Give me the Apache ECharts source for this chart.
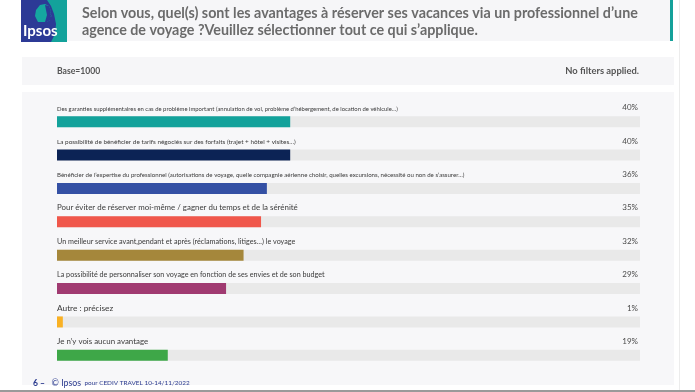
<!DOCTYPE html>
<html><head><meta charset="utf-8">
<script src="https://cdn.jsdelivr.net/npm/echarts@6/dist/echarts.min.js"></script>
<style>html,body{margin:0;padding:0;background:#fff}#c{width:695px;height:392px}</style>
</head><body><div id="c"></div>
<script>
const titleLines = [
  "Selon vous, quel(s) sont les avantages à réserver ses vacances via un professionnel d’une",
  "agence de voyage ?Veuillez sélectionner tout ce qui s’applique."
];
const baseText = "Base=1000";
const filterText = "No filters applied.";
const footerText = ["6 –", "© Ipsos", "pour CEDIV TRAVEL 10-14/11/2022"];
const categories = [
  "Des garanties supplémentaires en cas de problème important (annulation de vol, problème d’hébergement, de location de véhicule…)",
  "La possibilité de bénéficier de tarifs négociés sur des forfaits (trajet + hôtel + visites…)",
  "Bénéficier de l’expertise du professionnel (autorisations de voyage, quelle compagnie aérienne choisir, quelles excursions, nécessité ou non de s’assurer…)",
  "Pour éviter de réserver moi-même / gagner du temps et de la sérénité",
  "Un meilleur service avant,pendant et après (réclamations, litiges…) le voyage",
  "La possibilité de personnaliser son voyage en fonction de ses envies et de son budget",
  "Autre : précisez",
  "Je n’y vois aucun avantage"
];
const values = [40, 40, 36, 35, 32, 29, 1, 19];

// styles (kept apart from data)
const colors = ['#13a29b', '#0c2355', '#3450a4', '#f0574b', '#a5873b', '#a03a71', '#f9b124', '#3ea748'];
const labelSizes = [5.9, 6.4, 6.1, 7.9, 7.2, 7.2, 8.3, 7.9];

const percentLabels = values.map(v => v + '%');
const FONT = 'Lato, "Open Sans", sans-serif';

const rich = {};
labelSizes.forEach((s, i) => { rich['s' + i] = { fontSize: s, color: '#3a3a3a', fontFamily: FONT }; });

const chart = echarts.init(document.getElementById('c'), null, { renderer: 'canvas' });
chart.setOption({
  backgroundColor: '#ffffff',
  animation: false,
  graphic: [
    // header
    { type: 'rect', z: -10, shape: { x: 22, y: 0, width: 648, height: 41 }, style: { fill: '#f6f6f8' } },
    { type: 'rect', z: -10, shape: { x: 670, y: 0, width: 3, height: 41 }, style: { fill: '#15a19a' } },
    // logo
    { type: 'rect', z: -5, shape: { x: 21, y: 0, width: 46, height: 42 }, style: { fill: '#2c3a96' } },
    { type: 'polygon', z: -4, shape: { points: [[47,0],[67,0],[67,42],[51,42],[55,34],[56,24],[54,14],[51,6]] }, style: { fill: '#13a29b' } },
    { type: 'polygon', z: -3, shape: { points: [[38,22],[35,16],[36,10],[40,5],[45,4],[49,6],[51,11],[50,14],[52,16],[50,17],[50,20],[47,22]] }, style: { fill: '#15a7a0' } },
    { type: 'polygon', z: -2, shape: { points: [[45,5],[49,6],[51,11],[50,14],[52,16],[50,17],[50,20],[47,22],[45,22],[47,15]] }, style: { fill: '#2c3a96' } },
    { type: 'text', z: -1, style: { x: 23, y: 31, text: 'Ipsos', fill: '#ffffff', font: 'bold 15px ' + FONT, verticalAlign: 'middle' } },
    // title
    { type: 'text', z: 1, style: { x: 82, y: 13, text: titleLines[0], fill: '#6b6b6b', font: 'bold 14.3px ' + FONT, verticalAlign: 'middle' } },
    { type: 'text', z: 1, style: { x: 82, y: 30, text: titleLines[1], fill: '#6b6b6b', font: 'bold 14.3px ' + FONT, verticalAlign: 'middle' } },
    // base panel
    { type: 'rect', z: -10, shape: { x: 22, y: 57, width: 652, height: 28 }, style: { fill: '#f6f6f8' } },
    { type: 'text', z: 1, style: { x: 57, y: 71, text: baseText, fill: '#555555', font: 'bold 8.6px ' + FONT, verticalAlign: 'middle' } },
    { type: 'text', z: 1, style: { x: 639, y: 71, text: filterText, fill: '#555555', font: 'bold 9.4px ' + FONT, verticalAlign: 'middle', align: 'right' } },
    // main panel
    { type: 'rect', z: -10, shape: { x: 22, y: 92, width: 652, height: 293 }, style: { fill: '#f7f7f9' } },
    // frame lines
    { type: 'rect', z: -10, shape: { x: 679, y: 0, width: 1, height: 392 }, style: { fill: '#ececec' } },
    { type: 'rect', z: -10, shape: { x: 0, y: 390, width: 695, height: 2 }, style: { fill: '#9a9a9a' } },
    // footer
    { type: 'text', z: 1, style: { x: 33, y: 383, fill: '#2b3b8f', verticalAlign: 'middle',
        text: '{a|' + footerText[0] + '}  {b|' + footerText[1] + '} {c|' + footerText[2] + '}',
        rich: {
          a: { font: 'bold 8.5px ' + FONT, fill: '#2b3b8f' },
          b: { font: '8.8px ' + FONT, fill: '#2b3b8f' },
          c: { font: '6.4px ' + FONT, fill: '#2b3b8f' }
        } } }
  ],
  grid: { left: 57, right: 55, top: 105, bottom: 20, containLabel: false },
  xAxis: { type: 'value', min: 0, max: 100, show: false },
  yAxis: [
    {
      type: 'category', inverse: true, data: categories, position: 'left',
      axisLine: { show: false }, axisTick: { show: false }, splitLine: { show: false },
      axisLabel: {
        inside: true, margin: 0, align: 'left', verticalAlign: 'bottom', padding: [0, 0, 10, 0],
        formatter: (v, i) => '{s' + i + '|' + v + '}', rich: rich
      }
    },
    {
      type: 'category', inverse: true, data: percentLabels, position: 'right',
      axisLine: { show: false }, axisTick: { show: false }, splitLine: { show: false },
      axisLabel: {
        inside: true, margin: 2, align: 'right', verticalAlign: 'bottom', padding: [0, 0, 10, 0],
        color: '#4a4a4a', fontSize: 8, fontFamily: FONT
      }
    }
  ],
  series: [{
    type: 'bar', yAxisIndex: 0, barWidth: 11,
    data: values.map((v, i) => ({ value: v, itemStyle: { color: colors[i] } })),
    showBackground: true, backgroundStyle: { color: '#e9e9e9' }
  }]
});
</script></body></html>
